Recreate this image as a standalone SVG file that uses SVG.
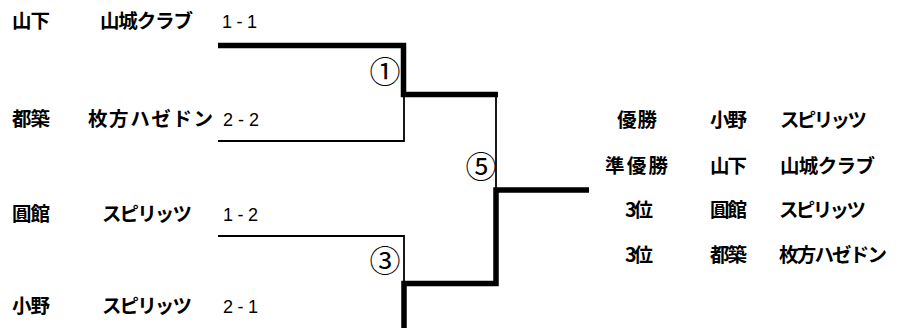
<svg xmlns="http://www.w3.org/2000/svg" width="901" height="328" viewBox="0 0 901 328">
<style>
.n{font-family:"Noto Sans CJK JP","Noto Sans",sans-serif;font-weight:bold;font-size:19.5px;fill:#000}
.s{font-family:"Liberation Sans","Noto Sans CJK JP",sans-serif;font-size:18px;fill:#000}
.c{font-family:"Noto Sans CJK JP","DejaVu Sans",sans-serif;font-size:31px;fill:#000}
.thick{fill:none;stroke:#000;stroke-width:5.5;stroke-linejoin:miter;stroke-linecap:butt}
.thin{fill:none;stroke:#000;stroke-width:1.8}
</style>
<rect width="901" height="328" fill="#fff"/>
<g id="connectors">
<path class="thin" d="M218,141 H404 V95"/>
<path class="thin" d="M496,95 V190"/>
<path class="thin" d="M218,236 H404 V283"/>
<path class="thick" d="M218,45.5 H403.5 V94.5 H498"/>
<path class="thick" d="M404,328 V283.5 H496 V190 H589"/>
</g>
<g id="team1">
<text class="n" x="12" y="28" textLength="38">山下</text>
<text class="n" x="100" y="28" textLength="93">山城クラブ</text>
<text class="s" x="222" y="28" textLength="35">1-1</text>
</g>
<g id="team2">
<text class="n" x="12" y="126" textLength="38">都築</text>
<text class="n" x="88" y="126" textLength="125">枚方ハゼドン</text>
<text class="s" x="223" y="126" textLength="36">2-2</text>
</g>
<g id="team3">
<text class="n" x="12" y="221" textLength="38">圓館</text>
<text class="n" x="102" y="221" textLength="90">スピリッツ</text>
<text class="s" x="223" y="221" textLength="35">1-2</text>
</g>
<g id="team4">
<text class="n" x="12" y="313" textLength="38">小野</text>
<text class="n" x="102" y="313" textLength="90">スピリッツ</text>
<text class="s" x="223" y="313" textLength="35">2-1</text>
</g>
<g id="match1"><text class="c" x="385" y="83" text-anchor="middle">①</text></g>
<g id="match3"><text class="c" x="385" y="272" text-anchor="middle">③</text></g>
<g id="match5"><text class="c" x="481" y="178" text-anchor="middle">⑤</text></g>
<g id="results">
<text class="n" x="617" y="127" textLength="40">優勝</text>
<text class="n" x="710" y="127" textLength="37">小野</text>
<text class="n" x="780" y="127" textLength="87">スピリッツ</text>
<text class="n" x="605" y="173" textLength="63">準優勝</text>
<text class="n" x="710" y="173" textLength="37">山下</text>
<text class="n" x="780" y="173" textLength="95">山城クラブ</text>
<text class="n" x="625" y="217" textLength="28">3位</text>
<text class="n" x="710" y="217" textLength="37">圓館</text>
<text class="n" x="779" y="217" textLength="87">スピリッツ</text>
<text class="n" x="625" y="262" textLength="28">3位</text>
<text class="n" x="710" y="262" textLength="37">都築</text>
<text class="n" x="779" y="262" textLength="108">枚方ハゼドン</text>
</g>
</svg>
